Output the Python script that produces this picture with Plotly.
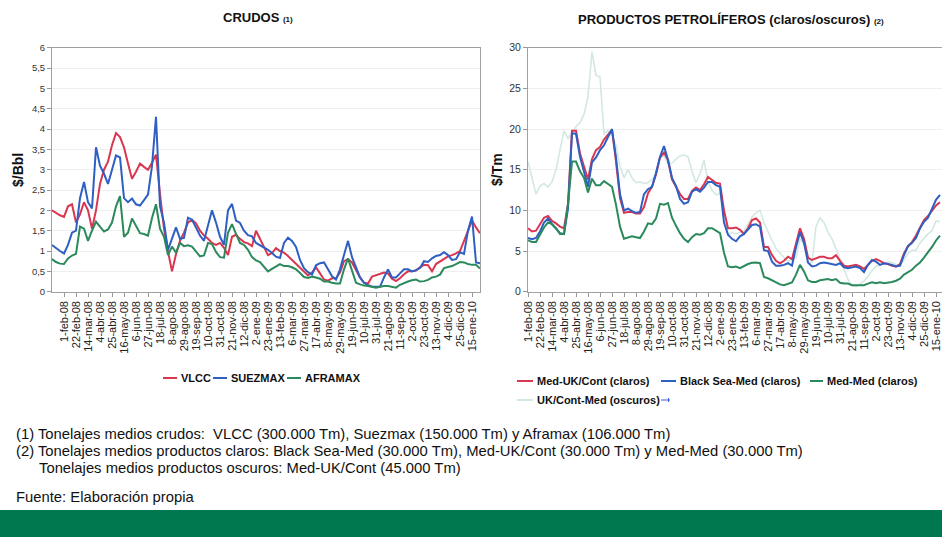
import plotly.graph_objects as go

W, H = 942, 537

# ---------------- DATA ----------------
fechas_ticks = ["1-feb-08", "22-feb-08", "14-mar-08", "4-abr-08", "25-abr-08", "16-may-08",
                "6-jun-08", "27-jun-08", "18-jul-08", "8-ago-08", "29-ago-08", "19-sep-08",
                "10-oct-08", "31-oct-08", "21-nov-08", "12-dic-08", "2-ene-09", "23-ene-09",
                "13-feb-09", "6-mar-09", "27-mar-09", "17-abr-09", "8-may-09", "29-may-09",
                "19-jun-09", "10-jul-09", "31-jul-09", "21-ago-09", "11-sep-09", "2-oct-09",
                "23-oct-09", "13-nov-09", "4-dic-09", "25-dic-09", "15-ene-10"]

# Crudos ($/Bbl), weekly
vlcc = [2.0, 1.93, 1.88, 1.84, 2.1, 2.15, 1.7, 1.9, 2.2, 2.0,
        1.55, 2.0, 2.65, 3.0, 3.2, 3.6, 3.9, 3.8, 3.55, 3.15,
        2.78, 2.95, 3.15, 3.07, 3.0, 3.17, 3.37, 2.4, 1.55, 0.99,
        0.5, 0.92, 1.25, 1.45, 1.7, 1.77, 1.68, 1.5, 1.38, 1.3,
        1.2, 1.15, 1.2, 1.08, 0.9, 1.35, 1.4, 1.3, 1.22, 1.19,
        1.12, 1.5, 1.3, 1.1, 0.9, 0.95, 1.07, 1.0, 0.96, 0.88,
        0.78, 0.68, 0.58, 0.48, 0.4, 0.47, 0.6, 0.45, 0.3, 0.27,
        0.33, 0.33, 0.47, 0.75, 0.8, 0.72, 0.52, 0.35, 0.22, 0.2,
        0.37, 0.4, 0.43, 0.47, 0.45, 0.32, 0.26, 0.33, 0.43, 0.5,
        0.5, 0.52, 0.6, 0.66, 0.65, 0.5, 0.68, 0.75, 0.82, 0.87,
        0.9, 0.94, 1.0, 1.25, 1.55, 1.75, 1.58, 1.44]
suezmax = [1.15, 1.07, 1.0, 0.94, 1.15, 1.45, 1.5, 2.3, 2.7, 2.2,
           2.05, 3.55, 3.1, 2.9, 2.65, 3.0, 3.35, 3.3, 2.3, 2.2,
           2.29, 2.15, 2.12, 2.25, 2.39, 3.09, 4.3, 2.1, 1.7, 1.03,
           1.28, 1.58, 1.3, 1.32, 1.82, 1.77, 1.58, 1.38, 1.25, 1.6,
           2.0, 1.7, 1.35, 1.15, 2.0, 2.16, 1.75, 1.69, 1.5, 1.39,
           1.36, 1.2, 1.14, 1.1, 1.03, 0.95, 0.86, 0.83, 1.2, 1.33,
           1.25, 1.1, 0.78, 0.58, 0.48, 0.42, 0.65, 0.7, 0.72, 0.55,
           0.38, 0.3, 0.55, 0.9, 1.25, 0.85, 0.6, 0.35, 0.22, 0.16,
           0.13, 0.12, 0.12, 0.35, 0.55, 0.35, 0.35, 0.45, 0.55, 0.55,
           0.5, 0.53, 0.58, 0.75, 0.73, 0.82, 0.88, 0.9, 0.97, 0.9,
           0.78, 0.8, 0.97, 0.93, 1.5, 1.85, 0.72, 0.7]
aframax = [0.8, 0.73, 0.69, 0.68, 0.82, 0.89, 0.93, 1.6, 1.55, 1.25,
           1.5, 1.72, 1.6, 1.48, 1.53, 1.7, 2.1, 2.35, 1.35, 1.45,
           1.8, 1.6, 1.44, 1.42, 1.38, 1.81, 2.15, 1.55, 1.35, 0.9,
           1.11, 0.96, 1.2, 1.12, 1.14, 1.11, 1.0, 0.87, 0.89, 1.2,
           1.17, 0.98, 0.85, 0.84, 1.45, 1.66, 1.42, 1.2, 1.15, 1.03,
           0.85, 0.77, 0.73, 0.6, 0.5, 0.56, 0.62, 0.68, 0.63, 0.63,
           0.6, 0.55, 0.46, 0.36, 0.34, 0.37, 0.35, 0.32, 0.25, 0.25,
           0.22, 0.2, 0.2, 0.55, 0.82, 0.5, 0.22, 0.18, 0.15, 0.14,
           0.12, 0.1, 0.12, 0.14, 0.14, 0.12, 0.1, 0.17, 0.22, 0.25,
           0.28, 0.3, 0.25, 0.26, 0.29, 0.35, 0.37, 0.42, 0.58, 0.6,
           0.63, 0.68, 0.73, 0.72, 0.68, 0.66, 0.66, 0.57]

# Productos ($/Tm), weekly
med_ukcont = [7.8, 7.4, 7.5, 8.3, 9.1, 9.3, 8.7, 8.4, 8.0, 7.8,
              10.8, 19.8, 19.8, 17.0, 15.4, 13.8, 16.3, 17.4, 17.8, 18.7,
              19.3, 19.9, 16.0, 11.5, 9.7, 9.8, 9.8, 9.6, 9.6, 10.4,
              12.1, 12.9, 14.4, 16.5, 17.1, 16.2, 13.8, 12.9, 12.0, 11.4,
              11.4, 12.4, 12.8, 12.5, 13.2, 14.1, 13.8, 13.4, 13.3, 10.0,
              7.8, 7.8, 7.9, 7.6, 7.1, 7.8, 8.8, 9.0, 8.5, 5.5,
              5.5, 4.5, 3.8, 3.5, 3.8, 4.3, 4.0, 6.0, 7.8, 6.5,
              4.2, 3.9, 4.1, 4.3, 4.3, 4.1, 4.1, 4.5, 3.8, 3.2,
              3.1, 3.2, 3.3, 3.1, 2.8, 3.3, 3.8, 4.0, 3.8, 3.5,
              3.4, 3.2, 3.1, 3.4, 4.7, 5.6, 6.1, 6.9, 7.8, 8.8,
              9.3, 10.0, 10.6, 11.0]
blacksea_med = [6.6, 6.45, 6.6, 7.4, 8.5, 9.0, 8.3, 7.7, 7.2, 7.1,
                10.2, 19.5, 19.4, 16.6, 14.8, 12.9, 15.9, 16.5, 17.4, 18.0,
                19.0, 20.0, 16.5, 12.0, 10.0, 10.2, 9.9, 9.7, 9.8, 12.0,
                12.6, 12.9, 14.6, 16.6, 17.9, 16.2, 14.0, 13.0, 11.4, 10.8,
                11.0, 12.3, 12.6, 12.3, 12.8, 13.5, 13.5, 13.1, 12.9, 8.5,
                7.0, 6.5, 6.2, 6.8, 7.1, 7.7, 8.2, 8.3, 8.0, 5.1,
                5.0, 3.7, 3.2, 3.2, 3.3, 3.5, 3.2, 5.5, 7.3, 6.0,
                3.6, 3.1, 3.2, 3.5, 3.6, 3.5, 3.4, 3.3, 3.5, 3.0,
                2.9, 3.0, 3.1, 2.9, 2.4, 3.3, 3.9, 3.7, 3.3, 3.5,
                3.4, 3.3, 3.1, 3.2, 4.5, 5.6, 6.0, 6.6, 7.8, 8.6,
                9.1, 10.2, 11.3, 11.9]
med_med = [6.35, 6.1, 6.1, 7.0, 7.9, 8.5, 8.3, 7.8, 7.1, 7.1,
           10.8, 16.0, 16.0, 14.8, 14.0, 12.2, 13.9, 13.1, 13.1, 13.6,
           13.2, 12.9, 10.7, 8.0, 6.5, 6.7, 6.8, 6.7, 6.6, 7.4,
           8.4, 8.3, 9.0, 10.8, 10.7, 10.9, 9.1, 8.1, 7.2, 6.5,
           6.1, 6.7, 7.1, 7.0, 7.2, 7.8, 7.8, 7.5, 7.2, 4.8,
           3.1, 3.0, 3.1, 2.9, 3.2, 3.4, 3.55, 3.6, 3.5, 1.8,
           1.65, 1.4, 1.05, 0.9, 0.8, 1.0, 1.15, 2.1, 3.3, 2.5,
           1.4, 1.2, 1.2, 1.4, 1.5, 1.55, 1.4, 1.55, 1.1, 1.0,
           1.0, 0.8, 0.8, 0.8, 0.8, 1.0, 1.15, 1.05, 1.15, 1.05,
           1.1, 1.2, 1.35, 1.6, 2.1, 2.4, 2.7, 3.2, 3.6, 4.2,
           4.8, 5.5, 6.3, 6.9]
ukcont_med = [16.0, 14.0, 12.0, 13.0, 13.3, 12.9, 13.5, 15.0, 17.5, 19.8,
              18.8, 19.5, 20.3, 20.8, 21.8, 24.0, 29.5, 26.6, 26.4, 19.4,
              19.8, 19.2, 18.0, 15.4, 14.0, 15.0, 14.0, 13.4, 13.5, 13.3,
              13.4, 13.8, 14.5, 16.5, 16.7, 15.6, 15.8, 16.3, 16.7, 16.8,
              16.6, 14.8, 13.4, 14.5, 16.2, 13.5, 12.5, 11.9, 12.1, 10.0,
              7.0, 7.3, 7.1, 7.3, 7.5, 8.3, 9.2, 9.7, 10.0, 8.5,
              7.3, 6.3, 5.3, 4.7, 4.2, 3.7, 3.9, 4.2, 6.5, 5.8,
              4.3, 3.5, 8.0, 9.1, 8.5, 7.3, 6.5, 5.3, 4.0, 2.6,
              1.5, 0.75, 0.65, 0.95, 1.3, 1.9, 2.6, 3.1, 3.3, 3.5,
              3.65, 3.6, 3.3, 3.1, 3.9, 4.7, 5.1, 5.1, 6.0, 6.6,
              7.1, 7.5, 8.7, 8.6]

crudos_names = ["VLCC", "SUEZMAX", "AFRAMAX"]
productos_names = ["Med-UK/Cont (claros)", "Black Sea-Med (claros)", "Med-Med (claros)",
                   "UK/Cont-Med (oscuros)"]

notas = ["(1) Tonelajes medios crudos:  VLCC (300.000 Tm), Suezmax (150.000 Tm) y Aframax (106.000 Tm)",
         "(2) Tonelajes medios productos claros: Black Sea-Med (30.000 Tm), Med-UK/Cont (30.000 Tm) y Med-Med (30.000 Tm)",
         "Tonelajes medios productos oscuros: Med-UK/Cont (45.000 Tm)"]
fuente = "Fuente: Elaboración propia"

# ---------------- STYLE ----------------
RED = "#d93650"
BLUE = "#2e5fc2"
GREEN = "#2a8a5c"
LIGHT = "#d3e8e3"
REG = "Liberation Sans, Arial, sans-serif"

sem_c = list(range(len(vlcc)))          # weeks; left chart starts 3 weeks before 1-feb-08
sem_p = list(range(len(med_ukcont)))    # weeks; right chart starts at 1-feb-08

fig = go.Figure()
crudos_series = [vlcc, suezmax, aframax]
crudos_colors = [RED, BLUE, GREEN]
for name, ys, col in zip(crudos_names, crudos_series, crudos_colors):
    fig.add_trace(go.Scatter(x=sem_c, y=ys, mode="lines", name=name,
                             line=dict(color=col, width=2), xaxis="x", yaxis="y",
                             showlegend=False, hoverinfo="skip"))

prod_series = [ukcont_med, med_ukcont, blacksea_med, med_med]
prod_names = [productos_names[3], productos_names[0], productos_names[1], productos_names[2]]
prod_colors = [LIGHT, RED, BLUE, GREEN]
prod_widths = [1.6, 2, 2, 2]
for name, ys, col, w in zip(prod_names, prod_series, prod_colors, prod_widths):
    fig.add_trace(go.Scatter(x=sem_p, y=ys, mode="lines", name=name,
                             line=dict(color=col, width=w), xaxis="x2", yaxis="y2",
                             showlegend=False, hoverinfo="skip"))


def px(x):
    return x / W


def py(y):
    return 1 - y / H


ydom = [py(291.7), py(47.7)]
common_x = dict(tickangle=-90, tickfont=dict(family=REG, size=11, color="#222"),
                ticks="outside", ticklen=4, tickcolor="#999", showline=True,
                linecolor="#a0a0a0", linewidth=1, mirror=True, showgrid=False,
                zeroline=False, fixedrange=True, automargin=False)
common_y = dict(ticks="outside", ticklen=4, tickcolor="#999", showline=True,
                linecolor="#a0a0a0", linewidth=1, mirror=True, showgrid=True,
                gridcolor="#efefef", zeroline=False, fixedrange=True, automargin=False)

fig.update_layout(
    width=W, height=H, margin=dict(l=0, r=0, t=0, b=0, pad=0, autoexpand=False),
    paper_bgcolor="white", plot_bgcolor="white", separators=",.",
    xaxis=dict(domain=[px(52), px(480)], range=[0, 107],
               tickvals=[3 + 3 * i for i in range(len(fechas_ticks))],
               ticktext=fechas_ticks, anchor="y", **common_x),
    yaxis=dict(domain=ydom, range=[0, 6], dtick=0.5, anchor="x",
               tickfont=dict(family=REG, size=9.5, color="#333"), **common_y),
    xaxis2=dict(domain=[px(528), 1.0], range=[0, 103.5],
                tickvals=[3 * i for i in range(len(fechas_ticks))],
                ticktext=fechas_ticks, anchor="y2", **common_x),
    yaxis2=dict(domain=ydom, range=[0, 30], dtick=5, anchor="x2",
                tickfont=dict(family=REG, size=10.5, color="#333"), **common_y),
)

ann = []
# titles
ann.append(dict(text="<b>CRUDOS <span style='font-size:8px'>(1)</span></b>",
                x=px(258), y=py(18), font=dict(family=REG, size=13, color="#111")))
ann.append(dict(text="<b>PRODUCTOS PETROLÍFEROS (claros/oscuros) <span style='font-size:8px'>(2)</span></b>",
                x=px(731), y=py(20), font=dict(family=REG, size=13, color="#111")))
# axis titles
ann.append(dict(text="<b>$/Bbl</b>", x=px(18), y=py(170), textangle=-90,
                font=dict(family=REG, size=14, color="#111")))
ann.append(dict(text="<b>$/Tm</b>", x=px(497), y=py(170), textangle=-90,
                font=dict(family=REG, size=14, color="#111")))
# footnotes
foot_font = dict(family=REG, size=14.8, color="#111")
ann.append(dict(text=notas[0], x=px(14), y=py(434), xanchor="left", font=foot_font))
ann.append(dict(text=notas[1], x=px(14), y=py(451), xanchor="left", font=foot_font))
ann.append(dict(text=notas[2], x=px(37), y=py(468), xanchor="left", font=foot_font))
ann.append(dict(text=fuente, x=px(14), y=py(497), xanchor="left", font=foot_font))

shapes = []
# legends (drawn with short line symbols like the original)
leg_font = dict(family=REG, size=11, color="#111")
left_leg = [(163, 177, 378), (213, 227, 378), (287, 301, 378)]
for (x0, x1, yy), name, col in zip(left_leg, crudos_names, crudos_colors):
    shapes.append(dict(type="line", xref="paper", yref="paper", x0=px(x0), x1=px(x1),
                       y0=py(yy), y1=py(yy), line=dict(color=col, width=2)))
    ann.append(dict(text="<b>%s</b>" % name, x=px(x1 + 1.5), y=py(yy), xanchor="left",
                    font=leg_font))
right_leg = [(517, 533, 381), (661, 676, 381), (810, 823, 381), (517, 533, 400)]
right_cols = [RED, BLUE, GREEN, LIGHT]
for (x0, x1, yy), name, col in zip(right_leg, productos_names, right_cols):
    shapes.append(dict(type="line", xref="paper", yref="paper", x0=px(x0), x1=px(x1),
                       y0=py(yy), y1=py(yy), line=dict(color=col, width=2)))
    ann.append(dict(text="<b>%s</b>" % name, x=px(x1 + 1.5), y=py(yy), xanchor="left",
                    font=leg_font))
# extra unnamed series symbol (-+-)
shapes.append(dict(type="line", xref="paper", yref="paper", x0=px(661), x1=px(676),
                   y0=py(400), y1=py(400), line=dict(color="#3a5fd8", width=1, dash="dash")))
shapes.append(dict(type="line", xref="paper", yref="paper", x0=px(668.5), x1=px(668.5),
                   y0=py(398), y1=py(402), line=dict(color="#3a5fd8", width=1)))

# green footer band
shapes.append(dict(type="rect", xref="paper", yref="paper", x0=0, x1=1, y0=0, y1=py(510),
                   fillcolor="#00784f", line=dict(width=0)))

for a in ann:
    a.setdefault("xref", "paper")
    a.setdefault("yref", "paper")
    a.setdefault("showarrow", False)
    a.setdefault("xanchor", "center")
    a.setdefault("yanchor", "middle")
fig.update_layout(annotations=ann, shapes=shapes)

fig.write_html("out.html", config={"displayModeBar": False, "staticPlot": True},
               post_script="document.body.style.margin='0';document.body.style.overflow='hidden';")
